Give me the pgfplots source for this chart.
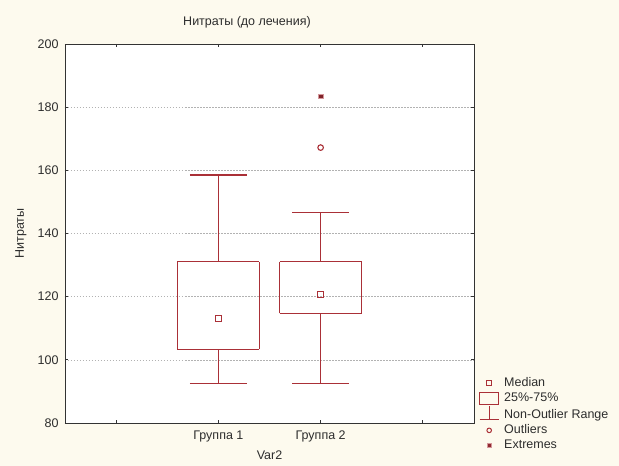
\documentclass[border=0pt]{standalone}
\usepackage{pgfplots}
\pgfplotsset{compat=1.18}
\usepackage{fontspec}
\setmainfont{Liberation Sans}
\definecolor{boxred}{RGB}{170,48,55}
\definecolor{bgcream}{RGB}{253,250,238}
\definecolor{txt}{RGB}{45,45,45}
\newcommand{\lblfont}{\fontsize{12.5}{14}\selectfont}
\begin{document}
\begin{tikzpicture}
\fill[bgcream] (-65pt,-43pt) rectangle (554pt,423pt);
\begin{axis}[
  scale only axis, width=409pt, height=379pt,
  at={(0,0)}, anchor=south west,
  axis background/.style={fill=white},
  xmin=-0.5, xmax=3.5, ymin=80, ymax=200,
  xtick={0,1,2,3}, xticklabels={,Группа 1,Группа 2,},
  ytick={80,100,...,200},
  tick pos=both, tick align=inside, major tick length=3pt,
  ymajorgrids, grid style={dash pattern=on 1.5pt off 1.5pt, gray!60, line width=0.5pt},
  axis line style={black!80, line width=0.9pt},
  every tick/.style={black!80, line width=0.8pt},
  tick label style={font=\lblfont, text=txt},
  /pgf/number format/assume math mode=true,
  yticklabel style={xshift=-3pt},
  xticklabel style={yshift=-4pt},
  title={Нитраты (до лечения)},
  title style={font=\lblfont, text=txt, at={(axis description cs:0.445,1.042)}, anchor=center},
  xlabel={Var2},
  xlabel style={font=\lblfont, text=txt, at={(axis description cs:0.5,-0.085)}, anchor=center},
  ylabel={Нитраты},
  ylabel style={font=\lblfont, text=txt, at={(axis description cs:-0.1076,0.5)}, anchor=center},
  legend style={at={(1.012,0.125)}, anchor=north west, draw=none, fill=none, inner sep=0pt, row sep=0pt,
    column sep=3pt, font=\lblfont, text=txt,
    nodes={text height=9pt, text depth=3pt, inner ysep=1.5pt, inner xsep=2pt}},
  legend cell align=left,
  boxline/.style={draw=boxred, color=boxred, line width=1.2pt, forget plot},
]
\addlegendimage{only marks, mark=square, mark size=2.5pt, draw=boxred, mark options={draw=boxred, line width=1pt}}
\addlegendentry{Median}
\addlegendimage{legend image code/.code={\draw[boxred,line width=1.1pt] (-1pt,-6pt) rectangle (18pt,6pt);}}
\addlegendentry{25\%-75\%}
\addlegendimage{legend image code/.code={\draw[boxred,line width=1.1pt] (8.5pt,9pt) -- (8.5pt,-4pt) (-1pt,-4pt) -- (18pt,-4pt);}}
\addlegendentry{Non-Outlier Range}
\addlegendimage{only marks, mark=o, mark size=2.3pt, draw=boxred, mark options={draw=boxred, line width=1pt}}
\addlegendentry{Outliers}
\addlegendimage{only marks, mark=square*, mark size=2pt, mark options={draw=boxred!50, fill=boxred!85!black}}
\addlegendentry{Extremes}

% Группа 1: box sides, whiskers, caps
\addplot[boxline] coordinates {(0.6,103.3) (1.4,103.3)};
\addplot[boxline] coordinates {(0.6,131.1) (1.4,131.1)};
\addplot[boxline] coordinates {(0.6,103.3) (0.6,131.1)};
\addplot[boxline] coordinates {(1.4,103.3) (1.4,131.1)};
\addplot[boxline] coordinates {(1,131.1) (1,158.5)};
\addplot[boxline] coordinates {(0.7225,158.5) (1.2775,158.5)};
\addplot[boxline] coordinates {(1,103.3) (1,92.6)};
\addplot[boxline] coordinates {(0.7225,92.6) (1.2775,92.6)};
% Группа 2
\addplot[boxline] coordinates {(1.6,114.7) (2.4,114.7)};
\addplot[boxline] coordinates {(1.6,131.1) (2.4,131.1)};
\addplot[boxline] coordinates {(1.6,114.7) (1.6,131.1)};
\addplot[boxline] coordinates {(2.4,114.7) (2.4,131.1)};
\addplot[boxline] coordinates {(2,131.1) (2,146.6)};
\addplot[boxline] coordinates {(1.7225,146.6) (2.2775,146.6)};
\addplot[boxline] coordinates {(2,114.7) (2,92.6)};
\addplot[boxline] coordinates {(1.7225,92.6) (2.2775,92.6)};
% medians
\addplot[only marks, color=boxred, mark=square, mark size=3pt, mark options={draw=boxred, line width=1.1pt}, forget plot]
  coordinates {(1,113.1) (2,120.7)};
% outliers
\addplot[only marks, color=boxred, mark=o, mark size=2.8pt, mark options={draw=boxred, line width=1.1pt}, forget plot]
  coordinates {(2,167.2)};
% extremes
\addplot[only marks, color=boxred, mark=square*, mark size=2.2pt, mark options={draw=boxred!50, fill=boxred!75!black}, forget plot]
  coordinates {(2,183.5)};
\end{axis}
\end{tikzpicture}
\end{document}
